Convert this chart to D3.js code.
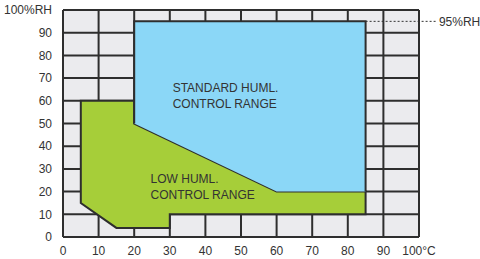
<!DOCTYPE html>
<html>
<head>
<meta charset="utf-8">
<script src="https://cdn.jsdelivr.net/npm/d3@7"></script>
<style>
body { margin: 0; background: #fff; }
text { font-family: "Liberation Sans", Arial, sans-serif; fill: #333; }
</style>
</head>
<body>
<svg width="480" height="259"></svg>
<script>
var xTicks = [0, 10, 20, 30, 40, 50, 60, 70, 80, 90, 100];
var yTicks = [0, 10, 20, 30, 40, 50, 60, 70, 80, 90, 100];
var xLabels = ["0", "10", "20", "30", "40", "50", "60", "70", "80", "90", "100°C"];
var yLabels = ["0", "10", "20", "30", "40", "50", "60", "70", "80", "90", "100%RH"];

// standard humidity range (temp, %RH)
var standardRange = [[20, 95], [85, 95], [85, 20], [60, 20], [20, 50]];
// low humidity range
var lowRange = [[5, 60], [20, 60], [20, 50], [60, 20], [85, 20], [85, 10], [30, 10], [30, 4], [15, 4], [5, 15]];
var limitRH = 95;

var svg = d3.select("svg"),
    margin = {top: 10, right: 61, bottom: 22, left: 63},
    width = +svg.attr("width") - margin.left - margin.right,
    height = +svg.attr("height") - margin.top - margin.bottom,
    g = svg.append("g").attr("transform", "translate(" + margin.left + "," + margin.top + ")");

var x = d3.scaleLinear().domain([0, 100]).range([0, width]);
var y = d3.scaleLinear().domain([0, 100]).range([height, 0]);

var line = d3.line()
    .x(function(d) { return x(d[0]); })
    .y(function(d) { return y(d[1]); });

// background
g.append("rect")
    .attr("width", width)
    .attr("height", height)
    .attr("fill", "#ebebee");

// grid
g.selectAll(".vline")
    .data(xTicks)
  .enter().append("line")
    .attr("x1", function(d) { return x(d); })
    .attr("x2", function(d) { return x(d); })
    .attr("y1", 0)
    .attr("y2", height)
    .attr("stroke", "#2e2e2e")
    .attr("stroke-width", 2);

g.selectAll(".hline")
    .data(yTicks)
  .enter().append("line")
    .attr("y1", function(d) { return y(d); })
    .attr("y2", function(d) { return y(d); })
    .attr("x1", 0)
    .attr("x2", width)
    .attr("stroke", "#2e2e2e")
    .attr("stroke-width", 2);

// regions
g.append("path")
    .attr("d", line(lowRange) + "Z")
    .attr("fill", "#a6ce39")
    .attr("stroke", "#2e2e2e")
    .attr("stroke-width", 2)
    .attr("stroke-linejoin", "miter");

g.append("path")
    .attr("d", line(standardRange) + "Z")
    .attr("fill", "#8bd7f7")
    .attr("stroke", "none");

// outline of the standard range (top/right edges)
g.append("path")
    .attr("d", line([[20, 50], [20, 95], [85, 95], [85, 20]]))
    .attr("fill", "none")
    .attr("stroke", "#2e2e2e")
    .attr("stroke-width", 2);

// 95%RH marker
g.append("line")
    .attr("x1", x(85))
    .attr("x2", x(104.8))
    .attr("y1", y(limitRH))
    .attr("y2", y(limitRH))
    .attr("stroke", "#333")
    .attr("stroke-width", 1)
    .attr("stroke-dasharray", "2,2");

g.append("text")
    .attr("x", x(105.6))
    .attr("y", y(limitRH))
    .attr("dy", "0.35em")
    .style("font-size", "12px")
    .text(limitRH + "%RH");

// axis labels
g.selectAll(".xlab")
    .data(xTicks)
  .enter().append("text")
    .attr("x", function(d) { return x(d); })
    .attr("y", height + 18)
    .attr("text-anchor", "middle")
    .style("font-size", "12px")
    .text(function(d, i) { return xLabels[i]; });

g.selectAll(".ylab")
    .data(yTicks)
  .enter().append("text")
    .attr("x", -11)
    .attr("y", function(d) { return y(d); })
    .attr("dy", "0.35em")
    .attr("text-anchor", "end")
    .style("font-size", "12px")
    .text(function(d, i) { return yLabels[i]; });

// region labels
function label(lines, tx, ty) {
  var t = g.append("text")
      .attr("x", x(tx))
      .attr("y", y(ty))
      .style("font-size", "12px");
  lines.forEach(function(s, i) {
    t.append("tspan")
        .attr("x", x(tx))
        .attr("dy", i ? 16 : 0)
        .text(s);
  });
}
label(["STANDARD HUML.", "CONTROL RANGE"], 30.8, 64);
label(["LOW HUML.", "CONTROL RANGE"], 24.6, 24);
</script>
</body>
</html>
